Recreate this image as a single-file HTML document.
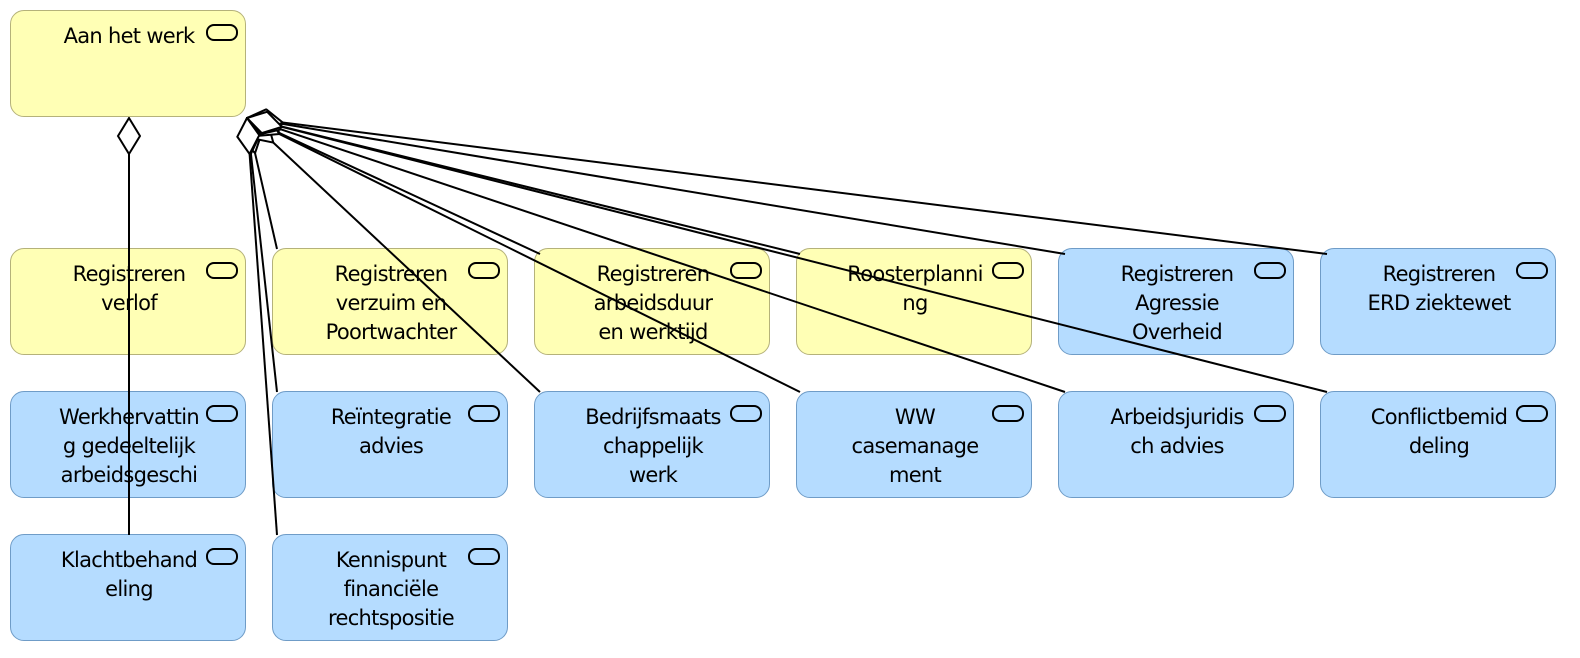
<!DOCTYPE html>
<html><head><meta charset="utf-8"><style>
body{margin:0;width:1580px;height:658px;background:#fff;position:relative;overflow:hidden;font-family:"DejaVu Sans","Liberation Sans",sans-serif;}
.b{position:absolute;width:234px;height:105px;border:1px solid #b5b27a;border-radius:14px;background:#ffffb5;box-sizing:content-box}
.bl{background:#b5dcff;border-color:#6f9cc7}
.t{position:absolute;left:18px;width:200px;top:11px;text-align:center;font-size:21px;letter-spacing:-0.7px;line-height:29px;color:#000;white-space:nowrap;overflow:hidden}
.i{position:absolute;left:195px;top:13px;width:28px;height:13px;border:2px solid #000;border-radius:8px}
svg{position:absolute;left:0;top:0}
</style></head><body>
<div class="b" style="left:10px;top:10px"><div class="t">Aan het werk</div><div class="i"></div></div>
<div class="b" style="left:10px;top:248px"><div class="t">Registreren<br>verlof</div><div class="i"></div></div>
<div class="b" style="left:272px;top:248px"><div class="t">Registreren<br>verzuim en<br>Poortwachter</div><div class="i"></div></div>
<div class="b" style="left:534px;top:248px"><div class="t">Registreren<br>arbeidsduur<br>en werktijd</div><div class="i"></div></div>
<div class="b" style="left:796px;top:248px"><div class="t">Roosterplanni<br>ng</div><div class="i"></div></div>
<div class="b bl" style="left:1058px;top:248px"><div class="t">Registreren<br>Agressie<br>Overheid</div><div class="i"></div></div>
<div class="b bl" style="left:1320px;top:248px"><div class="t">Registreren<br>ERD ziektewet</div><div class="i"></div></div>
<div class="b bl" style="left:10px;top:391px"><div class="t">Werkhervattin<br>g gedeeltelijk<br>arbeidsgeschi</div><div class="i"></div></div>
<div class="b bl" style="left:272px;top:391px"><div class="t">Reïntegratie<br>advies</div><div class="i"></div></div>
<div class="b bl" style="left:534px;top:391px"><div class="t">Bedrijfsmaats<br>chappelijk<br>werk</div><div class="i"></div></div>
<div class="b bl" style="left:796px;top:391px"><div class="t">WW<br>casemanage<br>ment</div><div class="i"></div></div>
<div class="b bl" style="left:1058px;top:391px"><div class="t">Arbeidsjuridis<br>ch advies</div><div class="i"></div></div>
<div class="b bl" style="left:1320px;top:391px"><div class="t">Conflictbemid<br>deling</div><div class="i"></div></div>
<div class="b bl" style="left:10px;top:534px"><div class="t">Klachtbehand<br>eling</div><div class="i"></div></div>
<div class="b bl" style="left:272px;top:534px"><div class="t">Kennispunt<br>financiële<br>rechtspositie</div><div class="i"></div></div>
<svg width="1580" height="658">
<defs><marker id="d" markerUnits="userSpaceOnUse" markerWidth="44" markerHeight="30" refX="1" refY="12" orient="auto"><path d="M1,12 L19,1 L37,12 L19,23 Z" fill="#fff" stroke="#000" stroke-width="2"/></marker></defs>
<g stroke="#000" stroke-width="2" fill="none" marker-start="url(#d)">
<path d="M129,118 L129,535"/>
<path d="M247,118 L277,249"/>
<path d="M247,118 L540,254"/>
<path d="M247,118 L800,254"/>
<path d="M247,118 L1065,254"/>
<path d="M247,118 L1327,254"/>
<path d="M247,118 L277,392"/>
<path d="M247,118 L540,392"/>
<path d="M247,118 L800,392"/>
<path d="M247,118 L1065,392"/>
<path d="M247,118 L1327,392"/>
<path d="M247,118 L277,535"/>
</g>
</svg>
</body></html>
